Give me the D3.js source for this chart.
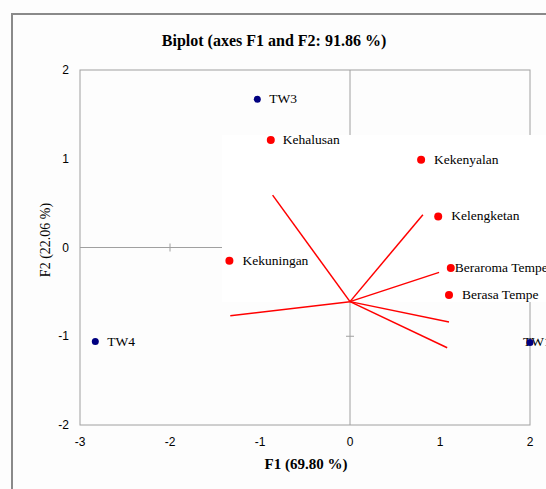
<!DOCTYPE html>
<html>
<head>
<meta charset="utf-8">
<script src="https://cdn.jsdelivr.net/npm/d3@7"></script>
<style>
  body { margin: 0; background: #fdfdfd; }
  svg { display: block; }
</style>
</head>
<body>
<svg width="546" height="489"></svg>
<script>
// observations (blue)
const obsNames = ["TW3", "TW4", "TW1"];
const obsF1 = [-1.03, -2.83, 2.0];
const obsF2 = [1.67, -1.06, -1.07];

// variables (red)
const varNames = ["Kehalusan", "Kekenyalan", "Kelengketan", "Kekuningan", "Beraroma Tempe", "Berasa Tempe"];
const varF1 = [-0.88, 0.79, 0.98, -1.34, 1.12, 1.10];
const varF2 = [1.21, 0.99, 0.35, -0.15, -0.23, -0.535];

// red vectors, all drawn from one shifted start
const vecStart = [0, -0.61];
const vecF1 = [-0.86, 0.81, 0.99, 1.10, 1.08, -1.33];
const vecF2 = [0.59, 0.37, -0.28, -0.84, -1.13, -0.77];

const xTicks = [-3, -2, -1, 0, 1, 2];
const yTicks = [-2, -1, 0, 1, 2];

const svg = d3.select("svg");
const x = d3.scaleLinear().domain([-3, 2]).range([80, 530]);
const y = d3.scaleLinear().domain([-2, 2]).range([425, 70]);
const serif = "Liberation Serif, Times New Roman, serif";

// outer chart frame
svg.append("rect")
  .attr("x", 12).attr("y", 14).attr("width", 560).attr("height", 500)
  .attr("fill", "#fdfdfd").attr("stroke", "#8a8a8a").attr("stroke-width", 2);

// title
svg.append("text")
  .attr("x", 274).attr("y", 46)
  .attr("text-anchor", "middle")
  .style("font-family", serif)
  .style("font-weight", "bold").style("font-size", "16px")
  .text("Biplot (axes F1 and F2: 91.86 %)");

// plot border
svg.append("rect")
  .attr("x", x(-3)).attr("y", y(2))
  .attr("width", x(2) - x(-3)).attr("height", y(-2) - y(2))
  .attr("fill", "none").attr("stroke", "#a0a0a0");

// zero axes
const ax = svg.append("g").attr("stroke", "#a0a0a0").attr("stroke-width", 1);
ax.append("line").attr("x1", x(-3)).attr("x2", x(2)).attr("y1", y(0)).attr("y2", y(0));
ax.append("line").attr("x1", x(0)).attr("x2", x(0)).attr("y1", y(2)).attr("y2", y(-2));
ax.selectAll(".xt").data(xTicks.filter(d => d > -3 && d < 2 && d !== 0)).join("line")
  .attr("x1", d => x(d)).attr("x2", d => x(d)).attr("y1", y(0) - 4).attr("y2", y(0) + 4);
ax.selectAll(".yt").data(yTicks.filter(d => d > -2 && d < 2 && d !== 0)).join("line")
  .attr("y1", d => y(d)).attr("y2", d => y(d)).attr("x1", x(0) - 4).attr("x2", x(0) + 4);

// tick labels
svg.append("g").selectAll("text").data(xTicks).join("text")
  .attr("x", d => x(d)).attr("y", 446)
  .attr("text-anchor", "middle")
  .style("font-family", "Liberation Sans, Arial, sans-serif").style("font-size", "12px")
  .text(d => d);
svg.append("g").selectAll("text").data(yTicks).join("text")
  .attr("x", 69).attr("y", d => y(d) + 4)
  .attr("text-anchor", "end")
  .style("font-family", "Liberation Sans, Arial, sans-serif").style("font-size", "12px")
  .text(d => d);

// axis titles
svg.append("text")
  .attr("x", 306).attr("y", 469)
  .attr("text-anchor", "middle")
  .style("font-family", serif)
  .style("font-weight", "bold").style("font-size", "15px")
  .text("F1 (69.80 %)");
svg.append("text")
  .attr("transform", "translate(50,240) rotate(-90)")
  .attr("text-anchor", "middle")
  .style("font-family", serif)
  .style("font-size", "14px")
  .text("F2 (22.06 %)");

const obsDx = [12, 12, -7];

// observation points
const obs = obsNames.map((n, i) => ({ name: n, f1: obsF1[i], f2: obsF2[i], dx: obsDx[i] }));
svg.append("g").selectAll("text").data(obs).join("text")
  .attr("x", d => x(d.f1) + d.dx).attr("y", d => y(d.f2) + 4)
  .style("font-family", serif).style("font-size", "13.5px")
  .text(d => d.name);
svg.append("g").selectAll("circle").data(obs).join("circle")
  .attr("cx", d => x(d.f1)).attr("cy", d => y(d.f2)).attr("r", 3.5)
  .attr("fill", "#000080");

// pasted white panel over the middle of the plot
svg.append("rect")
  .attr("x", 222).attr("y", 135).attr("width", 330).attr("height", 167)
  .attr("fill", "#ffffff");

// red vectors
const vecs = vecF1.map((v, i) => ({ f1: v, f2: vecF2[i] }));
svg.append("g").selectAll("line").data(vecs).join("line")
  .attr("x1", x(vecStart[0])).attr("y1", y(vecStart[1]))
  .attr("x2", d => x(d.f1)).attr("y2", d => y(d.f2))
  .attr("stroke", "#ff0000").attr("stroke-width", 1.5);

// variable points
const varDx = [12, 13, 13, 13, 4, 13];
const vars = varNames.map((n, i) => ({ name: n, f1: varF1[i], f2: varF2[i], dx: varDx[i] }));
svg.append("g").selectAll("circle").data(vars).join("circle")
  .attr("cx", d => x(d.f1)).attr("cy", d => y(d.f2)).attr("r", 4)
  .attr("fill", "#ff0000");
svg.append("g").selectAll("text").data(vars).join("text")
  .attr("x", d => x(d.f1) + d.dx).attr("y", d => y(d.f2) + 4)
  .style("font-family", serif).style("font-size", "13.5px")
  .text(d => d.name);
</script>
</body>
</html>
